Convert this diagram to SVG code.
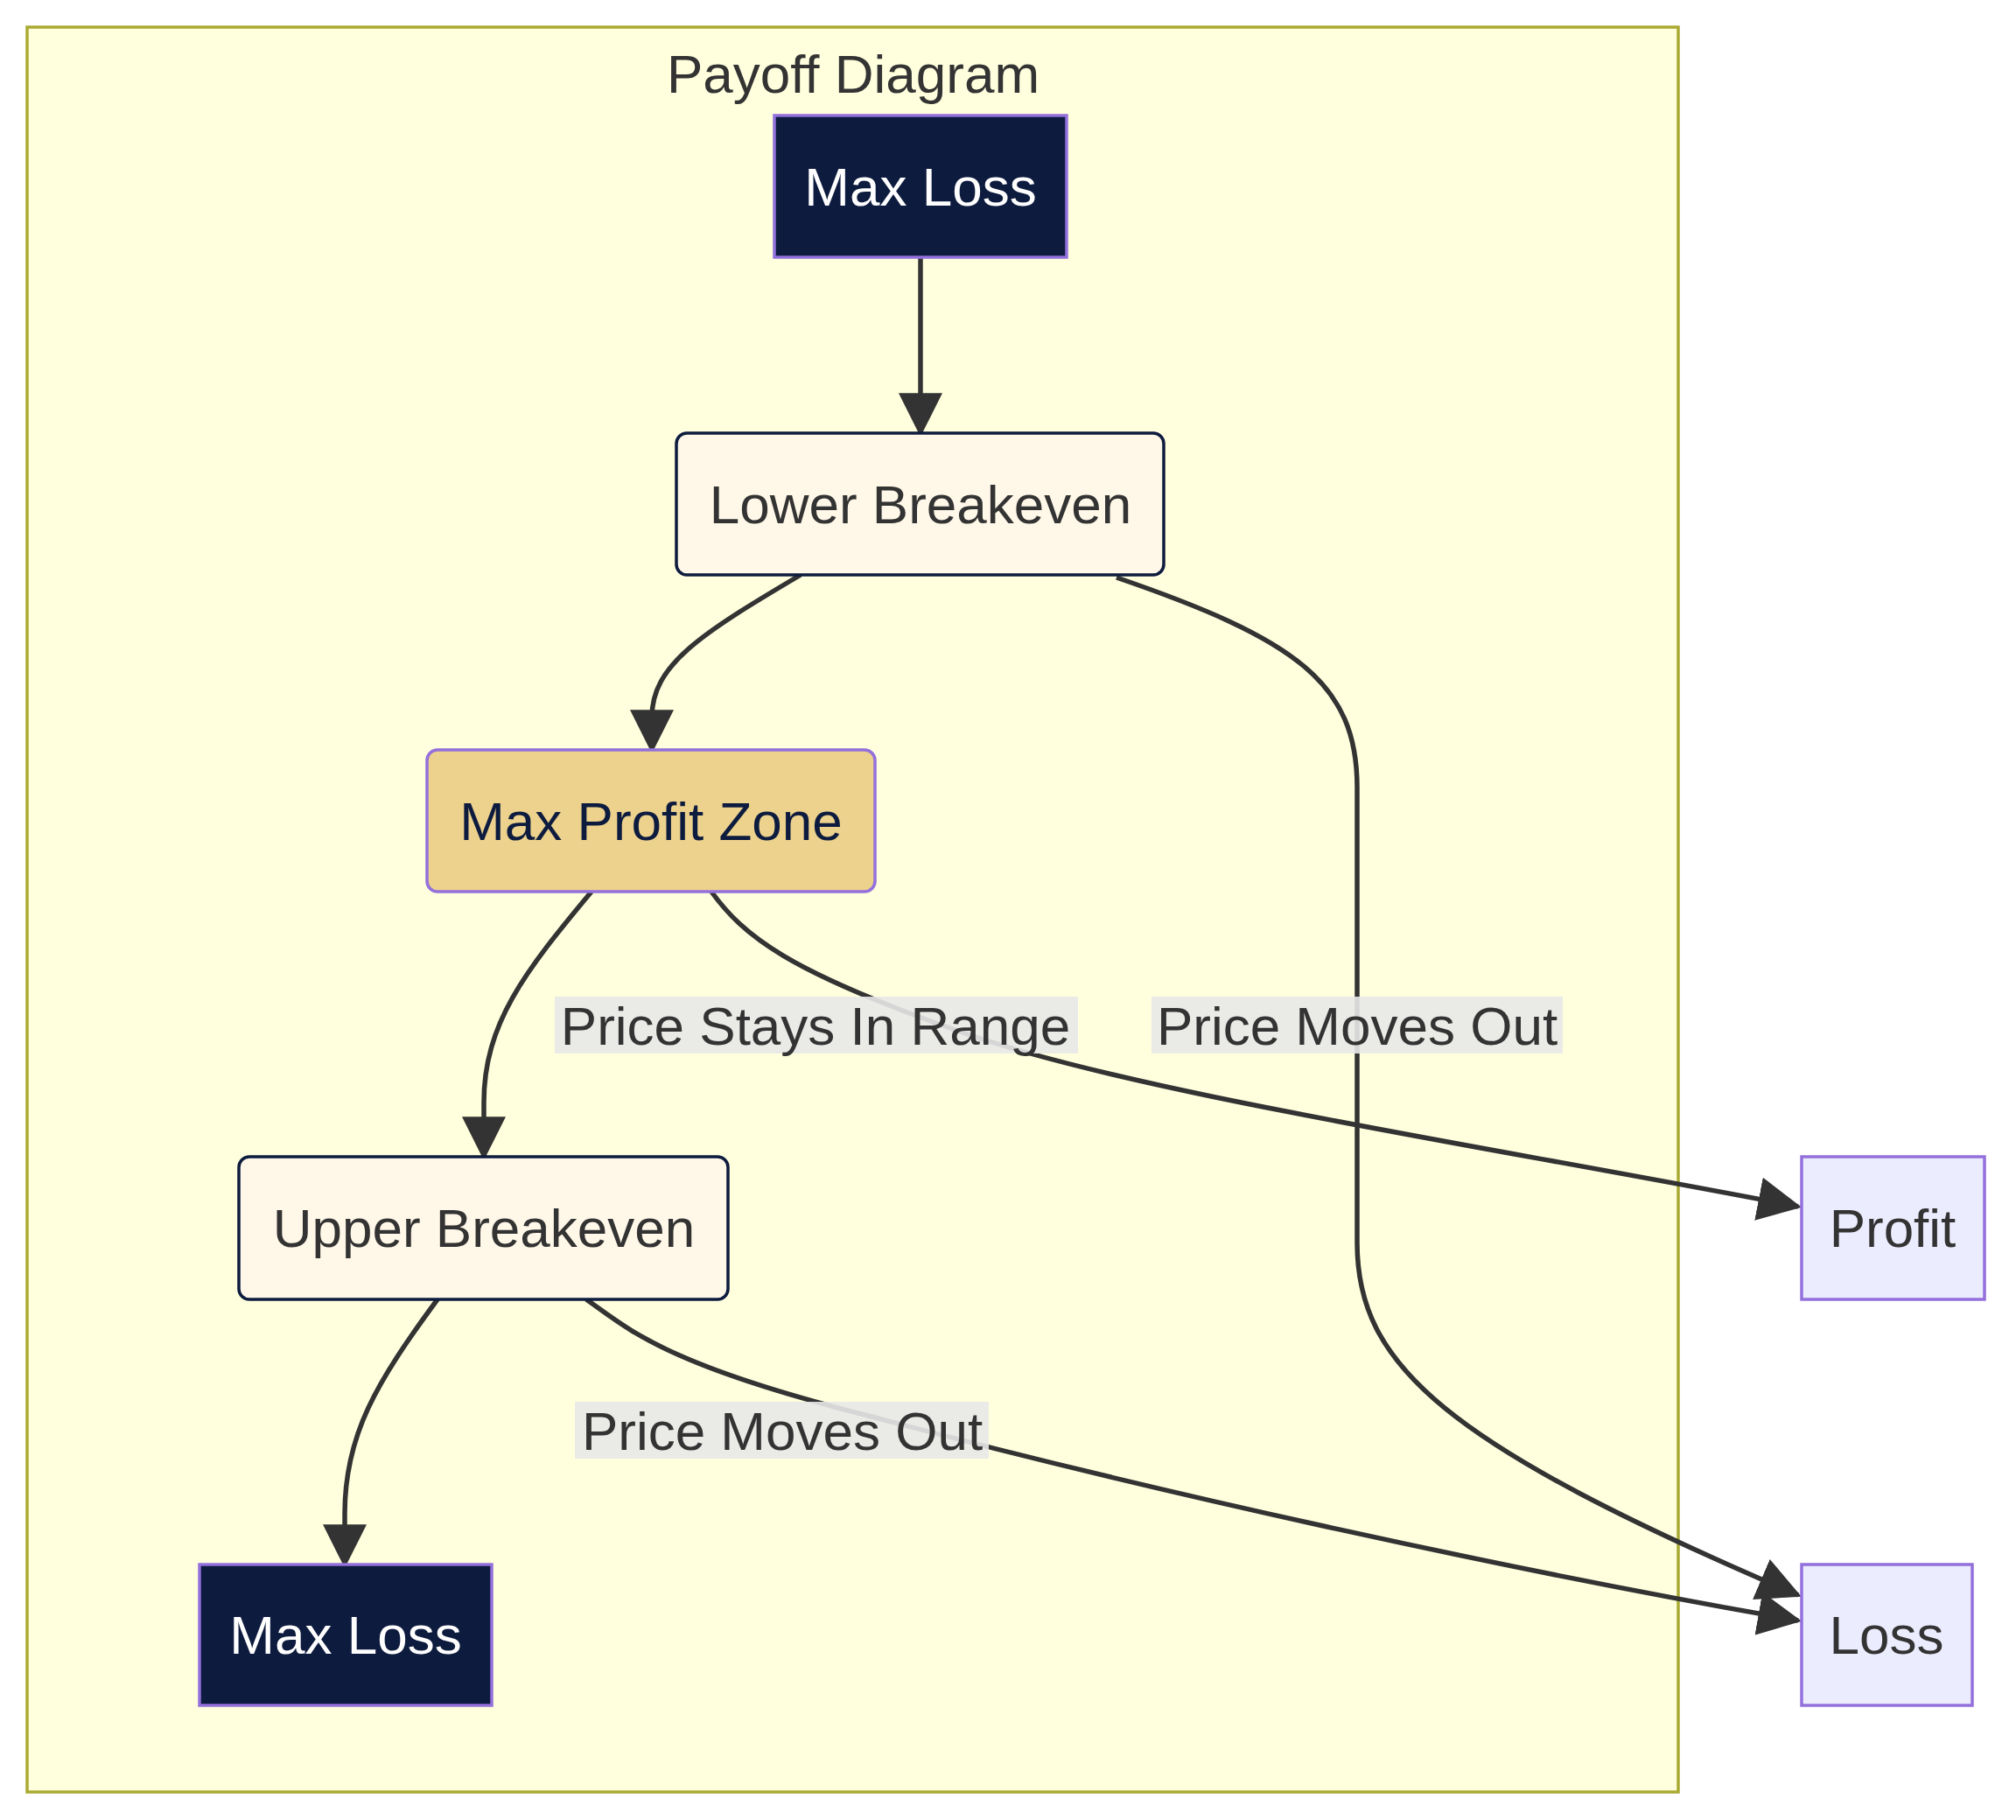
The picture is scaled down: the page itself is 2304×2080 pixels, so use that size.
<svg xmlns="http://www.w3.org/2000/svg" width="2304" height="2080" viewBox="0 0 2304 2080">
<style>
text{font-family:"Liberation Sans",Arial,sans-serif;font-size:62px;text-anchor:middle;dominant-baseline:central;fill:#333}
.dark rect{fill:#0d1b3e;stroke:#9370db;stroke-width:3.5}
.dark text{fill:#fff}
.be rect{fill:#fff8e8;stroke:#0d1b3e;stroke-width:3.5}
.plain rect{fill:#ececff;stroke:#9370db;stroke-width:3.5}
.edge{fill:none;stroke:#333;stroke-width:5.5}
.lbl{fill:#e8e8e8;opacity:0.9}
</style>
<defs>
<marker id="arr" markerUnits="userSpaceOnUse" markerWidth="50" markerHeight="50" refX="44" refY="24" orient="auto" viewBox="0 0 48 48">
<path d="M0,0 L48,24 L0,48 z" fill="#333"/>
</marker>
</defs>
<g id="cluster">
<rect x="31" y="31" width="1887" height="2017" fill="#ffffde" stroke="#aaaa33" stroke-width="3.5"/>
<text x="975" y="84" style="font-size:62px">Payoff Diagram</text>
</g>
<g id="edges">
<path class="edge" d="M1052,294 L1052,495" marker-end="url(#arr)"/>
<path class="edge" d="M915,657 C800,725 745,760 745,820 L745,857" marker-end="url(#arr)"/>
<path class="edge" d="M1276,660 C1480,730 1551,780 1551,900 L1551,1420 C1551,1560 1650,1650 2055,1823" marker-end="url(#arr)"/>
<path class="edge" d="M676,1019 C600,1110 553,1170 553,1260 L553,1322" marker-end="url(#arr)"/>
<path class="edge" d="M813,1019 C850,1070 900,1110 1100,1180 C1300,1250 1700,1310 2055,1379" marker-end="url(#arr)"/>
<path class="edge" d="M500,1485 C430,1580 394,1640 394,1730 L394,1788" marker-end="url(#arr)"/>
<path class="edge" d="M670,1485 C720,1520 760,1560 1000,1620 C1300,1700 1700,1790 2055,1852" marker-end="url(#arr)"/>
<rect class="lbl" x="1316" y="1139" width="470" height="65"/>
<text x="1551" y="1172">Price Moves Out</text>
<rect class="lbl" x="634" y="1139" width="598" height="65"/>
<text x="932" y="1172">Price Stays In Range</text>
<rect class="lbl" x="657" y="1602" width="473" height="65"/>
<text x="894" y="1635">Price Moves Out</text>
</g>
<g id="maxloss1" class="dark"><rect x="885" y="132" width="334" height="162"/><text x="1052" y="213">Max Loss</text></g>
<g id="lowerbe" class="be"><rect x="773" y="495" width="557" height="162" rx="12"/><text x="1052" y="576">Lower Breakeven</text></g>
<g id="maxprofit"><rect x="488" y="857" width="512" height="162" rx="12" fill="#edd28d" stroke="#9370db" stroke-width="3.5"/><text x="744" y="938" style="fill:#0d1b3e">Max Profit Zone</text></g>
<g id="upperbe" class="be"><rect x="273" y="1322" width="559" height="163" rx="12"/><text x="553" y="1403">Upper Breakeven</text></g>
<g id="maxloss2" class="dark"><rect x="228" y="1788" width="334" height="161"/><text x="395" y="1868">Max Loss</text></g>
<g id="profit" class="plain"><rect x="2059" y="1322" width="209" height="163"/><text x="2163" y="1403">Profit</text></g>
<g id="loss" class="plain"><rect x="2059" y="1788" width="195" height="161"/><text x="2156" y="1868">Loss</text></g>
</svg>
